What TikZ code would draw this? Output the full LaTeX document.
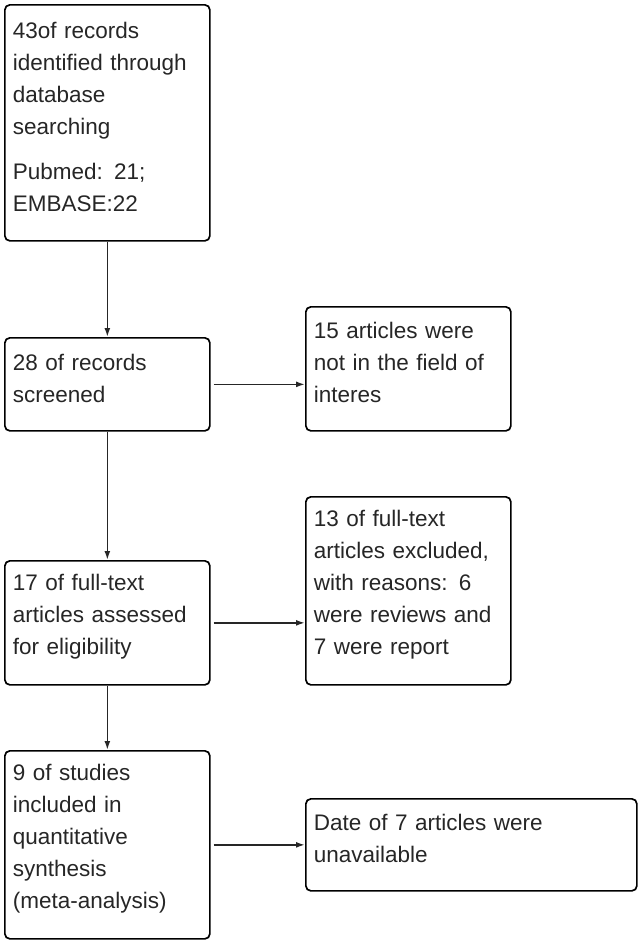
\documentclass[tikz,border=0pt]{standalone}
\usepackage{fontspec}
\setmainfont{Liberation Sans}
\usepackage{tikz}
\usetikzlibrary{positioning,arrows.meta}

\begin{document}
\begin{tikzpicture}[x=1pt,y=-1pt]
        \tikzstyle{every node}=[draw, rounded corners=5pt, line width=1.7pt, anchor=north west,
            align=left, inner sep=0pt, text width=189pt, minimum width=205pt,
            execute at end node=\vspace*{12pt},
            font=\fontsize{22.5}{32}\selectfont, text=black!85]
        \tikzstyle{flow}=[-{Latex[length=9pt,width=6pt]}, line width=1.7pt, draw=black!85]
        \useasboundingbox (0,0) rectangle (641,943);

        \node   (ident)   [minimum height=236pt] at (4,4)
            {43of records\\identified through\\database\\searching\\[13pt]Pubmed: 21;\\EMBASE:22};
        \node   (screen)  [minimum height=93pt] at (4,337) {28 of records\\screened};
        \node   (elig)    [minimum height=124pt] at (4,560) {17 of full-text\\articles assessed\\for eligibility};
        \node   (incl)    [minimum height=188pt] at (4,750)
            {9 of studies\\included in\\quantitative\\synthesis\\(meta-analysis)};

        \node   (notint)  [minimum height=124pt] at (305,306) {15 articles were\\not in the field of\\interes};
        \node   (excl)    [minimum height=188pt] at (305,496)
            {13 of full-text\\articles excluded,\\with reasons: 6\\were reviews and\\7 were report};
        \node   (unavail) [minimum height=92pt, minimum width=331pt, text width=315pt] at (305,798)
            {Date of 7 articles were\\unavailable};

        \draw[flow] (ident.south) -- (screen.north);
        \draw[flow] (screen.south) -- (elig.north);
        \draw[flow] (elig.south) -- (incl.north);
        \draw[flow] ([xshift=3pt]screen.east) -- (screen.east -| notint.west);
        \draw[flow] ([xshift=3pt]elig.east) -- (elig.east -| excl.west);
        \draw[flow] ([xshift=3pt]incl.east) -- (incl.east -| unavail.west);

    \end{tikzpicture}
\end{document}
